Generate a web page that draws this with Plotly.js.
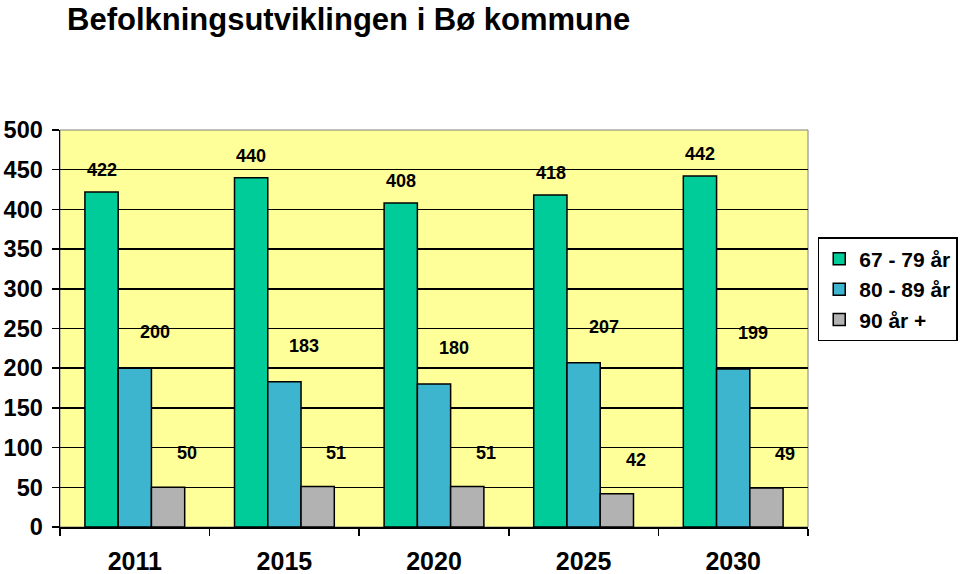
<!DOCTYPE html>
<html>
<head>
<meta charset="utf-8">
<script src="https://cdn.plot.ly/plotly-3.0.1.min.js"></script>
<style>html,body{margin:0;padding:0;background:#fff;}#chart{width:960px;height:574px;}</style>
</head>
<body>
<div id="chart"></div>
<script>
const years = ["2011", "2015", "2020", "2025", "2030"];
const age67to79 = [422, 440, 408, 418, 442];
const age80to89 = [200, 183, 180, 207, 199];
const age90plus = [50, 51, 51, 42, 49];
const seriesNames = ["67 - 79 år", "80 - 89 år", "90 år +"];
const seriesColors = ["#00CC99", "#3DB5CE", "#B2B2B2"];

const FONT = "Liberation Sans, Arial, sans-serif";
const seriesValues = [age67to79, age80to89, age90plus];
const labelStyle = [
  {xshift: -33, yshift: 22},
  {xshift: 20, yshift: 36},
  {xshift: 52, yshift: 34}
];

const traces = seriesValues.map((vals, i) => ({
  type: "bar",
  name: seriesNames[i],
  x: years,
  y: vals,
  marker: {color: seriesColors[i], line: {color: "#000", width: 1.5}},
  hoverinfo: "skip"
}));

const annotations = [];
seriesValues.forEach((vals, i) => {
  vals.forEach((v, j) => {
    annotations.push({
      x: j, y: v, xref: "x", yref: "y",
      text: String(v), showarrow: false,
      xanchor: "center", yanchor: "middle",
      xshift: labelStyle[i].xshift, yshift: labelStyle[i].yshift,
      font: {family: FONT, size: 18, color: "#000", weight: "bold"}
    });
  });
});

const layout = {
  width: 960, height: 574,
  margin: {l: 60, r: 152, t: 130, b: 47, autoexpand: false},
  paper_bgcolor: "#ffffff",
  plot_bgcolor: "#FFFF99",
  barmode: "group",
  bargap: 0.333,
  bargroupgap: 0,
  title: {
    text: "Befolkningsutviklingen i Bø kommune",
    x: 67 / 960, xanchor: "left", xref: "container",
    y: 1 - 19 / 574, yanchor: "middle", yref: "container",
    font: {family: FONT, size: 31, color: "#000", weight: "bold"}
  },
  xaxis: {
    type: "category",
    range: [-0.5, 4.5],
    tickson: "boundaries",
    ticks: "outside", ticklen: 7, tickwidth: 1.5, tickcolor: "#000",
    ticklabelstandoff: 11,
    showline: true, linecolor: "#000", linewidth: 1.5,
    showgrid: false,
    tickangle: 0,
    tickfont: {family: FONT, size: 25, color: "#000", weight: "bold"},
    zeroline: false
  },
  yaxis: {
    range: [0, 500],
    dtick: 50,
    ticks: "outside", ticklen: 7, tickwidth: 1.5, tickcolor: "#000",
    ticklabelstandoff: 4,
    showline: true, linecolor: "#000", linewidth: 1.5,
    showgrid: true, gridcolor: "#000", gridwidth: 1.5,
    zeroline: false,
    tickfont: {family: FONT, size: 23.5, color: "#000", weight: "bold"}
  },
  showlegend: true,
  legend: {
    x: 1.013, xanchor: "left", xref: "paper",
    y: 0.73, yanchor: "top", yref: "paper",
    bgcolor: "#fff", bordercolor: "#000", borderwidth: 1.5,
    font: {family: FONT, size: 21, color: "#000", weight: "bold"},
    tracegroupgap: 0,
    itemwidth: 30
  },
  shapes: [{
    type: "rect", xref: "paper", yref: "paper", x0: 0, x1: 1, y0: 0, y1: 1,
    line: {color: "#808080", width: 1}, layer: "below"
  }],
  annotations: annotations
};

Plotly.newPlot("chart", traces, layout, {displayModeBar: false, staticPlot: true});
</script>
</body>
</html>
